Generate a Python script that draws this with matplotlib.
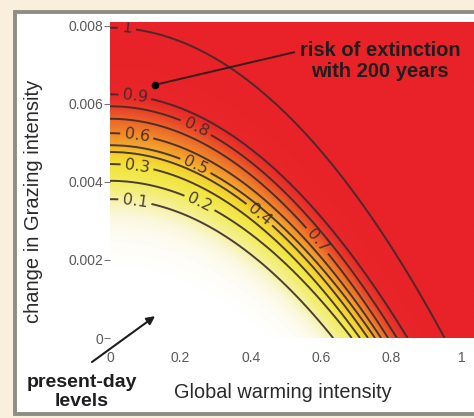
import numpy as np
import matplotlib
matplotlib.use("Agg")
import matplotlib.pyplot as plt
from matplotlib.colors import LinearSegmentedColormap
from matplotlib.patches import Rectangle

# ---- data ----
risk_levels = [0.1, 0.2, 0.3, 0.4, 0.5, 0.6, 0.7, 0.8, 0.9, 1.0]
level_labels = ['0.1', '0.2', '0.3', '0.4', '0.5', '0.6', '0.7', '0.8', '0.9', '1']
# where each risk contour meets the warming axis (grazing = 0)
warming_intercepts = [0.634, 0.687, 0.710, 0.733, 0.753, 0.770, 0.790, 0.815, 0.845, 0.950]
# where each risk contour meets the grazing axis (warming = 0)
grazing_intercepts = [0.00356, 0.00403, 0.00446, 0.00477, 0.00494, 0.00525,
                      0.00562, 0.00594, 0.00624, 0.00795]
# positions of the contour labels (warming, grazing)
label_warming = [0.071, 0.256, 0.077, 0.426, 0.247, 0.077, 0.590, 0.244, 0.071, 0.048]
label_grazing = [0.00352, 0.00350, 0.00440, 0.00318, 0.00450, 0.00525, 0.00250,
                 0.00540, 0.00622, 0.00790]
xticks = [0, 0.2, 0.4, 0.6, 0.8, 1.0]
xtick_labels = ['0', '0.2', '0.4', '0.6', '0.8', '1']
yticks = [0, 0.002, 0.004, 0.006, 0.008]
ytick_labels = ['0', '0.002', '0.004', '0.006', '0.008']

W, H = 474, 418
fig = plt.figure(figsize=(W / 100, H / 100), dpi=100)
fig.patch.set_facecolor('#f9efdc')
frame = Rectangle((15 / W, 4 / H), 1.2, (414 - 12) / H, transform=fig.transFigure,
                  facecolor='white', edgecolor='#8e8e86', linewidth=2.8, zorder=-5)
fig.patches.append(frame)

ax = fig.add_axes([110 / W, 1 - 338 / H, (W - 110) / W, (338 - 22) / H], zorder=2)
ax.set_facecolor('white')
xmax, ymax = 1.034, 0.0081
ax.set_xlim(0, xmax)
ax.set_ylim(0, ymax)

# ---- risk field built from the contour intercepts ----
xs = np.linspace(0, xmax, 500)
ys = np.linspace(0, ymax, 500)
X, Y = np.meshgrid(xs, ys)
a = np.array(warming_intercepts)[:, None, None]
b = np.array(grazing_intercepts)[:, None, None]
G = Y[None] / b + (X[None] / a) ** 2
L = np.array(risk_levels)
P = np.zeros_like(X)
inside = G[0] <= 1
P[inside] = L[0] * G[0][inside] ** 5
for k in range(len(L) - 1):
    m = (G[k] > 1) & (G[k + 1] <= 1)
    P[m] = L[k] + (L[k + 1] - L[k]) * (G[k][m] - 1) / (G[k][m] - G[k + 1][m])
out = G[-1] > 1
P[out] = 1 + 0.1 * (G[-1][out] - 1)

cmap = LinearSegmentedColormap.from_list('risk', [
    (0.00, '#ffffff'), (0.05, '#fbf8de'), (0.10, '#f6f1a2'), (0.20, '#f2ec5c'),
    (0.30, '#f2e238'), (0.40, '#f4ca2e'), (0.50, '#f4aa2c'), (0.60, '#f08a2a'),
    (0.70, '#ec6428'), (0.80, '#e93e28'), (0.90, '#e8262a'), (1.00, '#e82228')])
ax.imshow(P, extent=(0, xmax, 0, ymax), origin='lower', aspect='auto', cmap=cmap,
          vmin=0, vmax=1, interpolation='bilinear', zorder=1)
cs = ax.contour(X, Y, P, levels=risk_levels, colors='#3c2a2a', linewidths=1.4,
                alpha=0.9, zorder=2)
fmt = {lv: lab for lv, lab in zip(cs.levels, level_labels)}
ax.clabel(cs, fmt=fmt, fontsize=11.5, colors='#3c2a2a', inline=True, inline_spacing=4,
          manual=list(zip(label_warming, label_grazing)))

# ---- axes styling ----
for s in ax.spines.values():
    s.set_visible(False)
ax.set_xticks(xticks)
ax.set_xticklabels(xtick_labels)
ax.set_yticks(yticks)
ax.set_yticklabels(ytick_labels)
ax.tick_params(axis='x', length=0, pad=9, labelsize=10, labelcolor='#5a5a5a')
ax.tick_params(axis='y', length=4, width=0.8, color='#777777', pad=1, labelsize=10,
               labelcolor='#5a5a5a')
for t in ax.get_xticklabels() + ax.get_yticklabels():
    t.set_family('Liberation Sans')

ax.set_xlabel('Global warming intensity', fontsize=14.3, family='Liberation Sans',
              color='#2a2a2a')
ax.xaxis.set_label_coords((283 - 110) / (W - 110), -(393 - 338) / 316)
ax.xaxis.label.set_va('center')
ax.set_ylabel('change in Grazing intensity', fontsize=14.5, family='Liberation Sans',
              color='#2a2a2a')
ax.yaxis.set_label_coords((34 - 110) / (W - 110), (338 - 201) / 316)
ax.yaxis.label.set_va('center')

# ---- annotations ----
ax.annotate('risk of extinction\nwith 200 years', xy=(0.128, 0.00649),
            xytext=(0.767, 0.0071), ha='center', va='center', fontsize=14.5,
            fontweight='bold', family='Liberation Sans', color='#1e1e1e',
            linespacing=1.15, zorder=5,
            arrowprops=dict(arrowstyle='-', color='#3a1a1a', lw=1.4,
                            shrinkA=2, shrinkB=0,
                            relpos=(0.0, 0.75)))
ax.plot([0.128], [0.00649], 'o', color='black', markersize=4.5, zorder=6)

fig.text(82 / W, 1 - 392 / H, 'present-day\nlevels', ha='center', va='center',
         fontsize=14, fontweight='bold', family='Liberation Sans', color='#1e1e1e',
         linespacing=1.1)
ax.annotate('', xy=(0.128, 0.00056), xycoords='data',
            xytext=(92 / W, 1 - 362 / H), textcoords='figure fraction',
            arrowprops=dict(arrowstyle='-|>', color='#1e1e1e', lw=1.5,
                            mutation_scale=12, shrinkA=0, shrinkB=0),
            annotation_clip=False, zorder=6)

fig.savefig('out.png', dpi=100, facecolor=fig.get_facecolor())
